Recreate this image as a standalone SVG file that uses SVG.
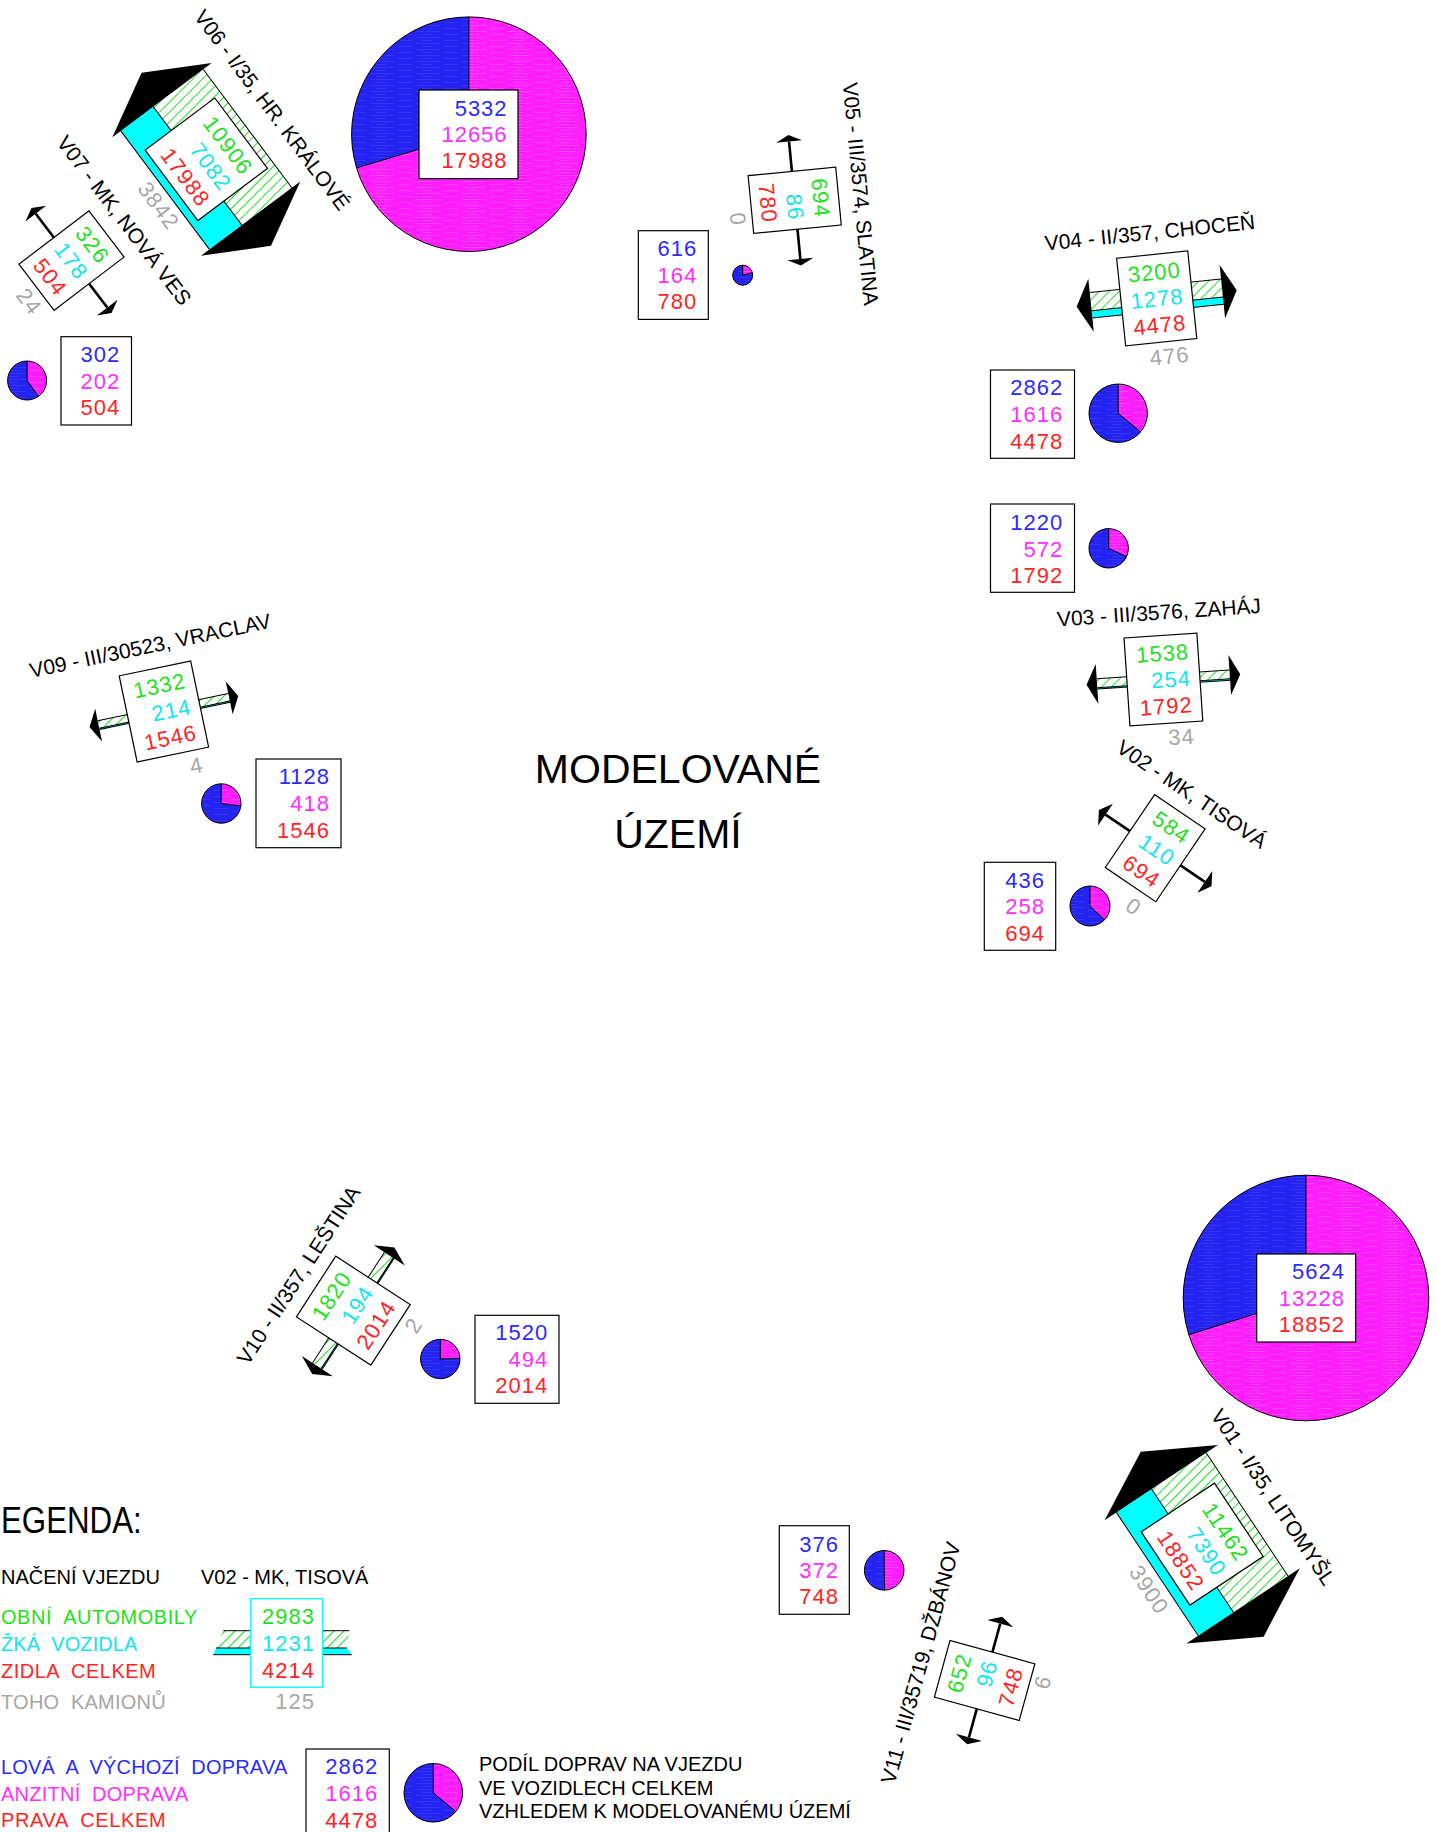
<svg xmlns="http://www.w3.org/2000/svg" width="1437" height="1832" viewBox="0 0 1437 1832">
<defs>
<style>
text{font-family:"Liberation Sans",Arial,sans-serif}
.n{font-size:22px;letter-spacing:1px;text-anchor:end}
.g{fill:#1fe01f}.c{fill:#12e4ee}.r{fill:#ff2424}.b{fill:#2b2bff}.m{fill:#ff2eff}.gr{fill:#a6a6a6}
.lbl{font-size:21px;text-anchor:middle;fill:#000}
.box{fill:#fff;stroke:#000;stroke-width:1.2}
.ln{fill:none;stroke:#000;stroke-width:1}
.rd{fill:none;stroke:#000;stroke-width:2.6}
.ah{fill:#000}
.cy{fill:#00ffff}
.pm{fill:url(#pM)}
.pb{fill:url(#pB)}
.po{fill:none;stroke:#000;stroke-width:1}
.lg{font-size:20px;white-space:pre}
.k{font-size:20px;fill:#000}
</style>
<pattern id="pB" width="46" height="6" patternUnits="userSpaceOnUse"><rect width="46" height="6" fill="#2424f2"/><path d="M2 1.5H26M30 4.5H44M8 4.5H18" stroke="#3a3afa" stroke-width="0.8"/></pattern>
<pattern id="pM" width="46" height="6" patternUnits="userSpaceOnUse"><rect width="46" height="6" fill="#ff1cff"/><path d="M2 1.5H26M30 4.5H44M8 4.5H18" stroke="#ff4cff" stroke-width="0.8"/></pattern>
<pattern id="hV06" width="7" height="7" patternUnits="userSpaceOnUse" patternTransform="rotate(-8.2)"><rect width="7" height="7" fill="#fff"/><line x1="3.5" y1="0" x2="3.5" y2="7" stroke="#22dd22" stroke-width="1"/></pattern>
<pattern id="hV01" width="7" height="7" patternUnits="userSpaceOnUse" patternTransform="rotate(-11.4)"><rect width="7" height="7" fill="#fff"/><line x1="3.5" y1="0" x2="3.5" y2="7" stroke="#22dd22" stroke-width="1"/></pattern>
<pattern id="hV04" width="7" height="7" patternUnits="userSpaceOnUse" patternTransform="rotate(50.9)"><rect width="7" height="7" fill="#fff"/><line x1="3.5" y1="0" x2="3.5" y2="7" stroke="#22dd22" stroke-width="1"/></pattern>
<pattern id="hV03" width="7" height="7" patternUnits="userSpaceOnUse" patternTransform="rotate(48.85)"><rect width="7" height="7" fill="#fff"/><line x1="3.5" y1="0" x2="3.5" y2="7" stroke="#22dd22" stroke-width="1"/></pattern>
<pattern id="hV09" width="7" height="7" patternUnits="userSpaceOnUse" patternTransform="rotate(56.8)"><rect width="7" height="7" fill="#fff"/><line x1="3.5" y1="0" x2="3.5" y2="7" stroke="#22dd22" stroke-width="1"/></pattern>
<pattern id="hV10" width="7" height="7" patternUnits="userSpaceOnUse" patternTransform="rotate(102)"><rect width="7" height="7" fill="#fff"/><line x1="3.5" y1="0" x2="3.5" y2="7" stroke="#22dd22" stroke-width="1"/></pattern>
<pattern id="hLeg" width="7" height="7" patternUnits="userSpaceOnUse" patternTransform="rotate(45)"><rect width="7" height="7" fill="#fff"/><line x1="3.5" y1="0" x2="3.5" y2="7" stroke="#22dd22" stroke-width="1"/></pattern>
</defs>
<rect width="1437" height="1832" fill="#fff"/>

<!-- center title -->
<g id="title">
<text x="678" y="782.8" font-size="41" text-anchor="middle">MODELOVANÉ</text>
<text x="678" y="848" font-size="41" text-anchor="middle">ÚZEMÍ</text>
</g>

<!-- V06 -->
<g id="V06" transform="translate(206.3,159.3) rotate(53.2)">
<rect x="-74" y="-51.45" width="148" height="62.4" fill="url(#hV06)"/>
<rect class="cy" x="-74" y="10.95" width="148" height="40.5"/>
<path class="ln" d="M-74,-51.45H74M-74,10.95H74M-74,51.45H74"/>
<path class="ah" d="M-74,-62L-108,0L-74,62ZM74,-62L108,0L74,62Z"/>
<rect class="box" x="-44" y="-43.5" width="88" height="87"/>
<text class="n g" x="35" y="-18.1">10906</text>
<text class="n c" x="35" y="8.5">7082</text>
<text class="n r" x="35" y="35">17988</text>
<text class="n gr" x="35" y="73.5">3842</text>
<text class="lbl" x="0" y="-75">V06 - I/35, HR. KRÁLOVÉ</text>
</g>
<g id="P06">
<circle class="pm" cx="468.9" cy="134.2" r="117.3"/>
<path class="pb" d="M468.9,134.2V16.9A117.3,117.3 0 0 0 356.55,167.94Z"/>
<circle class="po" cx="468.9" cy="134.2" r="117.3"/>
<path class="ln" d="M356.55,167.94L468.9,134.2V16.9"/>
<rect class="box" x="419" y="90" width="99" height="88.6"/>
<text class="n b" x="507.6" y="115.7">5332</text>
<text class="n m" x="507.6" y="142.3">12656</text>
<text class="n r" x="507.6" y="168.3">17988</text>
</g>

<!-- V07 -->
<g id="V07" transform="translate(71.5,260.6) rotate(52.7)">
<path class="rd" d="M-59,0H59"/>
<path class="ah" d="M-59,-13L-66,0L-59,13ZM59,-13L66,0L59,13Z"/>
<rect class="box" x="-29" y="-44" width="58" height="88"/>
<text class="n g" x="20" y="-18.6">326</text>
<text class="n c" x="20" y="8">178</text>
<text class="n r" x="20" y="34.5">504</text>
<text class="n gr" x="20" y="66">24</text>
<text class="lbl" x="0" y="-59">V07 - MK, NOVÁ VES</text>
</g>
<g id="P07">
<rect class="box" x="61" y="336.7" width="70.5" height="88.3"/>
<text class="n b" x="120.3" y="362.3">302</text>
<text class="n m" x="120.3" y="389">202</text>
<text class="n r" x="120.3" y="415.3">504</text>
<circle class="pm" cx="27.1" cy="380.5" r="19.5"/>
<path class="pb" d="M27.1,380.5V361A19.5,19.5 0 1 0 38.48,396.33Z"/>
<circle class="po" cx="27.1" cy="380.5" r="19.5"/>
<path class="ln" d="M38.48,396.33L27.1,380.5V361"/>
</g>

<!-- V05 -->
<g id="V05" transform="translate(794.7,200.3) rotate(84.5)">
<path class="rd" d="M-59,0H59"/>
<path class="ah" d="M-59,-13L-65.5,0L-59,13ZM59,-13L65.5,0L59,13Z"/>
<rect class="box" x="-29" y="-44" width="58" height="88"/>
<text class="n g" x="20" y="-18.6">694</text>
<text class="n c" x="20" y="8">86</text>
<text class="n r" x="20" y="34.5">780</text>
<text class="n gr" x="20" y="66">0</text>
<text class="lbl" x="0" y="-59">V05 - III/3574, SLATINA</text>
</g>
<g id="P05">
<rect class="box" x="638.3" y="230.7" width="70" height="88.7"/>
<text class="n b" x="697.3" y="256">616</text>
<text class="n m" x="697.3" y="282.7">164</text>
<text class="n r" x="697.3" y="309.3">780</text>
<circle class="pm" cx="742.7" cy="275.2" r="10"/>
<path class="pb" d="M742.7,275.2V265.2A10,10 0 1 0 752.39,272.73Z"/>
<circle class="po" cx="742.7" cy="275.2" r="10"/>
<path class="ln" d="M752.39,272.73L742.7,275.2V265.2"/>
</g>

<!-- V04 -->
<g id="V04" transform="translate(1156.7,298.4) rotate(-5.9)">
<rect x="-66" y="-12.8" width="132" height="18.3" fill="url(#hV04)"/>
<rect class="cy" x="-66" y="5.5" width="132" height="7.3"/>
<path class="ln" d="M-66,-12.8H66M-66,5.5H66M-66,12.8H66"/>
<path class="ah" d="M-66,-26.7L-80.5,0L-66,26.7ZM66,-26.7L80.5,0L66,26.7Z"/>
<rect class="box" x="-35.75" y="-44" width="71.5" height="88"/>
<text class="n g" x="26.75" y="-18.6">3200</text>
<text class="n c" x="26.75" y="8">1278</text>
<text class="n r" x="26.75" y="34.5">4478</text>
<text class="n gr" x="26.75" y="66.4">476</text>
<text class="lbl" x="0" y="-59">V04 - II/357, CHOCEŇ</text>
</g>
<g id="P04">
<rect class="box" x="990.5" y="370" width="84" height="88.3"/>
<text class="n b" x="1063.3" y="395.3">2862</text>
<text class="n m" x="1063.3" y="422">1616</text>
<text class="n r" x="1063.3" y="448.7">4478</text>
<circle class="pm" cx="1118.2" cy="413.2" r="29.2"/>
<path class="pb" d="M1118.2,413.2V384A29.2,29.2 0 1 0 1140.61,431.92Z"/>
<circle class="po" cx="1118.2" cy="413.2" r="29.2"/>
<path class="ln" d="M1140.61,431.92L1118.2,413.2V384"/>
</g>

<!-- V03 -->
<g id="V03" transform="translate(1163.4,679.5) rotate(-3.85)">
<rect x="-66.5" y="-5.12" width="133" height="8.8" fill="url(#hV03)"/>
<rect class="cy" x="-66.5" y="3.68" width="133" height="1.45"/>
<path class="ln" d="M-66.5,-5.12H66.5M-66.5,3.68H66.5M-66.5,5.13H66.5"/>
<path class="ah" d="M-66.5,-20L-77,0L-66.5,20ZM66.5,-20L77,0L66.5,20Z"/>
<rect class="box" x="-36.5" y="-44" width="73" height="88"/>
<text class="n g" x="27.5" y="-18.6">1538</text>
<text class="n c" x="27.5" y="8">254</text>
<text class="n r" x="27.5" y="34.5">1792</text>
<text class="n gr" x="27.5" y="66">34</text>
<text class="lbl" x="0" y="-60">V03 - III/3576, ZAHÁJ</text>
</g>
<g id="P03">
<rect class="box" x="990.5" y="504" width="84" height="88.3"/>
<text class="n b" x="1063.3" y="530">1220</text>
<text class="n m" x="1063.3" y="556.5">572</text>
<text class="n r" x="1063.3" y="583">1792</text>
<circle class="pm" cx="1108.7" cy="548.3" r="19.7"/>
<path class="pb" d="M1108.7,548.3V528.6A19.7,19.7 0 1 0 1126.57,556.6Z"/>
<circle class="po" cx="1108.7" cy="548.3" r="19.7"/>
<path class="ln" d="M1126.57,556.6L1108.7,548.3V528.6"/>
</g>

<!-- V02 -->
<g id="V02" transform="translate(1155.2,848.2) rotate(34.1)">
<path class="rd" d="M-60,0H60"/>
<path class="ah" d="M-60,-13.2L-68,0L-60,13.2ZM60,-13.2L68,0L60,13.2Z"/>
<rect class="box" x="-30.5" y="-44" width="61" height="88"/>
<text class="n g" x="21.5" y="-18.6">584</text>
<text class="n c" x="21.5" y="8">110</text>
<text class="n r" x="21.5" y="34.5">694</text>
<text class="n gr" x="21.5" y="68">0</text>
<text class="lbl" x="0" y="-58">V02 - MK, TISOVÁ</text>
</g>
<g id="P02">
<rect class="box" x="984.3" y="862.3" width="71.4" height="88"/>
<text class="n b" x="1045" y="887.7">436</text>
<text class="n m" x="1045" y="914">258</text>
<text class="n r" x="1045" y="940.5">694</text>
<circle class="pm" cx="1090" cy="906" r="20"/>
<path class="pb" d="M1090,906V886A20,20 0 1 0 1104.43,919.85Z"/>
<circle class="po" cx="1090" cy="906" r="20"/>
<path class="ln" d="M1104.43,919.85L1090,906V886"/>
</g>

<!-- V09 -->
<g id="V09" transform="translate(163.9,711.5) rotate(-11.8)">
<rect x="-66.7" y="-4.42" width="133.4" height="7.62" fill="url(#hV09)"/>
<rect class="cy" x="-66.7" y="3.2" width="133.4" height="1.22"/>
<path class="ln" d="M-66.7,-4.42H66.7M-66.7,3.2H66.7M-66.7,4.42H66.7"/>
<path class="ah" d="M-66.7,-16.7L-76,0L-66.7,16.7ZM66.7,-16.7L76,0L66.7,16.7Z"/>
<rect class="box" x="-36.5" y="-44" width="73" height="88"/>
<text class="n g" x="27.5" y="-18.6">1332</text>
<text class="n c" x="27.5" y="8">214</text>
<text class="n r" x="27.5" y="34.5">1546</text>
<text class="n gr" x="27.5" y="67">4</text>
<text class="lbl" x="0" y="-60">V09 - III/30523, VRACLAV</text>
</g>
<g id="P09">
<rect class="box" x="256" y="759" width="85" height="88.7"/>
<text class="n b" x="330" y="784.3">1128</text>
<text class="n m" x="330" y="811">418</text>
<text class="n r" x="330" y="837.7">1546</text>
<circle class="pm" cx="221.3" cy="803.5" r="19.7"/>
<path class="pb" d="M221.3,803.5V783.8A19.7,19.7 0 1 0 240.84,806.02Z"/>
<circle class="po" cx="221.3" cy="803.5" r="19.7"/>
<path class="ln" d="M240.84,806.02L221.3,803.5V783.8"/>
</g>

<!-- V10 -->
<g id="V10" transform="translate(353.3,1310.7) rotate(-57)">
<rect x="-66" y="-5.76" width="132" height="10.41" fill="url(#hV10)"/>
<rect class="cy" x="-66" y="4.65" width="132" height="1.11"/>
<path class="ln" d="M-66,-5.76H66M-66,4.65H66M-66,5.76H66"/>
<path class="ah" d="M-66,-18.5L-75.5,0L-66,18.5ZM66,-18.5L75.5,0L66,18.5Z"/>
<rect class="box" x="-36.15" y="-44.4" width="72.3" height="88.8"/>
<text class="n g" x="27" y="-18.6">1820</text>
<text class="n c" x="27" y="8">194</text>
<text class="n r" x="27" y="34.5">2014</text>
<text class="n gr" x="27" y="66">2</text>
<text class="lbl" x="0" y="-58">V10 - II/357, LEŠTINA</text>
</g>
<g id="P10">
<rect class="box" x="475" y="1315.3" width="84" height="88"/>
<text class="n b" x="548.3" y="1340">1520</text>
<text class="n m" x="548.3" y="1366.7">494</text>
<text class="n r" x="548.3" y="1393.3">2014</text>
<circle class="pm" cx="440.3" cy="1359" r="19.7"/>
<path class="pb" d="M440.3,1359V1339.3A19.7,19.7 0 1 0 459.99,1358.42Z"/>
<circle class="po" cx="440.3" cy="1359" r="19.7"/>
<path class="ln" d="M459.99,1358.42L440.3,1359V1339.3"/>
</g>

<!-- V11 -->
<g id="V11" transform="translate(984.6,1680.5) rotate(-74.6)">
<path class="rd" d="M-59,0H59"/>
<path class="ah" d="M-59,-13.5L-66,0L-59,13.5ZM59,-13.5L66,0L59,13.5Z"/>
<rect class="box" x="-29.4" y="-44" width="58.8" height="88"/>
<text class="n g" x="20.4" y="-18.6">652</text>
<text class="n c" x="20.4" y="8">96</text>
<text class="n r" x="20.4" y="34.5">748</text>
<text class="n gr" x="20.4" y="64">6</text>
<text class="lbl" x="0" y="-59">V11 - III/35719, DŽBÁNOV</text>
</g>
<g id="P11">
<rect class="box" x="779.3" y="1525.7" width="70" height="88.6"/>
<text class="n b" x="839" y="1551.7">376</text>
<text class="n m" x="839" y="1577.7">372</text>
<text class="n r" x="839" y="1604.3">748</text>
<circle class="pm" cx="884.2" cy="1570.3" r="19.8"/>
<path class="pb" d="M884.2,1570.3V1550.5A19.8,19.8 0 1 0 884.53,1590.1Z"/>
<circle class="po" cx="884.2" cy="1570.3" r="19.8"/>
<path class="ln" d="M884.53,1590.1L884.2,1570.3V1550.5"/>
</g>

<!-- V01 -->
<g id="V01" transform="translate(1202.2,1544.2) rotate(56.4)">
<rect x="-74" y="-53.9" width="148" height="65.56" fill="url(#hV01)"/>
<rect class="cy" x="-74" y="11.66" width="148" height="42.24"/>
<path class="ln" d="M-74,-53.9H74M-74,11.66H74M-74,53.9H74"/>
<path class="ah" d="M-74,-68L-111,0L-74,68ZM74,-68L111,0L74,68Z"/>
<rect class="box" x="-44" y="-44" width="88" height="88"/>
<text class="n g" x="35" y="-18.6">11462</text>
<text class="n c" x="35" y="8">7390</text>
<text class="n r" x="35" y="34.5">18852</text>
<text class="n gr" x="35" y="77">3900</text>
<text class="lbl" x="0" y="-78">V01 - I/35, LITOMYŠL</text>
</g>
<g id="P01">
<circle class="pm" cx="1306" cy="1298" r="122.8"/>
<path class="pb" d="M1306,1298V1175.2A122.8,122.8 0 0 0 1188.82,1334.72Z"/>
<circle class="po" cx="1306" cy="1298" r="122.8"/>
<path class="ln" d="M1188.82,1334.72L1306,1298V1175.2"/>
<rect class="box" x="1256.7" y="1254" width="99" height="88"/>
<text class="n b" x="1345" y="1279">5624</text>
<text class="n m" x="1345" y="1305.7">13228</text>
<text class="n r" x="1345" y="1332">18852</text>
</g>

<!-- legend -->
<g id="legend">
<text x="1" y="1532.7" font-size="36" textLength="140.7" lengthAdjust="spacingAndGlyphs">EGENDA:</text>
<text class="k" x="1" y="1584.3" textLength="159">NAČENÍ VJEZDU</text>
<text class="k" x="201" y="1584.3">V02 - MK, TISOVÁ</text>
<text class="lg g" x="1" y="1624.3" textLength="196.3" xml:space="preserve">OBNÍ  AUTOMOBILY</text>
<text class="lg c" x="1" y="1651" textLength="136.3" xml:space="preserve">ŽKÁ  VOZIDLA</text>
<text class="lg r" x="1" y="1677.7" textLength="154.7" xml:space="preserve">ZIDLA  CELKEM</text>
<text class="lg gr" x="1" y="1709" textLength="164.7" xml:space="preserve">TOHO  KAMIONŮ</text>
<polygon points="223.3,1630.7 250.7,1630.7 250.7,1648 216,1648" fill="url(#hLeg)"/>
<polygon class="cy" points="216,1648 250.7,1648 250.7,1654.7 213.3,1654.7"/>
<path class="ln" d="M223.3,1630.7H250.7M216,1648H250.7M213.3,1654.7H250.7"/>
<polygon points="322.7,1630.7 349.3,1630.7 346.7,1648 322.7,1648" fill="url(#hLeg)"/>
<polygon class="cy" points="322.7,1648 346.7,1648 351.7,1654.7 322.7,1654.7"/>
<path class="ln" d="M322.7,1630.7H349.3M322.7,1648H346.7M322.7,1654.7H351.7"/>
<rect x="250.7" y="1598.7" width="72" height="88.6" fill="#fff" stroke="#00ffff" stroke-width="1.3"/>
<text class="n g" x="315" y="1624.3">2983</text>
<text class="n c" x="315" y="1651">1231</text>
<text class="n r" x="315" y="1677.7">4214</text>
<text class="n gr" x="315" y="1709">125</text>
<text class="lg b" x="1" y="1774" textLength="286.3" xml:space="preserve">LOVÁ  A  VÝCHOZÍ  DOPRAVA</text>
<text class="lg m" x="1" y="1800.7" textLength="187.3" xml:space="preserve">ANZITNÍ  DOPRAVA</text>
<text class="lg r" x="1" y="1826.7" textLength="164.7" xml:space="preserve">PRAVA  CELKEM</text>
<rect class="box" x="306" y="1749" width="83.3" height="100"/>
<text class="n b" x="378.3" y="1774.3">2862</text>
<text class="n m" x="378.3" y="1801">1616</text>
<text class="n r" x="378.3" y="1827.7">4478</text>
<circle class="pm" cx="433.3" cy="1792.8" r="29.3"/>
<path class="pb" d="M433.3,1792.8V1763.5A29.3,29.3 0 1 0 455.78,1811.59Z"/>
<circle class="po" cx="433.3" cy="1792.8" r="29.3"/>
<path class="ln" d="M455.78,1811.59L433.3,1792.8V1763.5"/>
<text class="k" x="479" y="1770.7">PODÍL DOPRAV NA VJEZDU</text>
<text class="k" x="479" y="1794.5">VE VOZIDLECH CELKEM</text>
<text class="k" x="479" y="1817.5">VZHLEDEM K MODELOVANÉMU ÚZEMÍ</text>
</g>
</svg>
